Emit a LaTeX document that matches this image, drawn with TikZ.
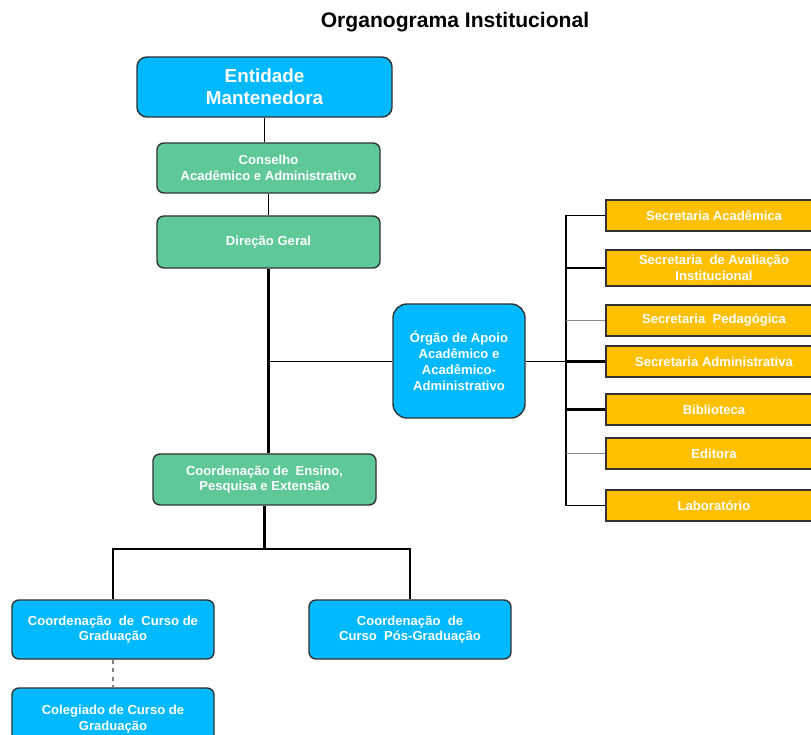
\documentclass[tikz,border=0pt]{standalone}
\usepackage{fontspec}
\setmainfont{Liberation Sans}
\usepackage{tikz}
\usetikzlibrary{positioning, calc}
\definecolor{boxBlue}{HTML}{00B9FF}
\definecolor{boxGreen}{HTML}{5EC899}
\definecolor{boxOrange}{HTML}{FFC000}
\colorlet{edge}{black!80}

\begin{document}
\begin{tikzpicture}[x=0.025cm, y=-0.025cm,
    unit/.style={draw=edge, line width=1pt, inner sep=0pt, align=center,
      text=white, font=\bfseries\fontsize{9.3}{11}\selectfont},
    blueunit/.style={unit, fill=boxBlue, rounded corners=5pt},
    greenunit/.style={unit, fill=boxGreen, rounded corners=5pt},
    secunit/.style={unit, fill=boxOrange, minimum width=5.4cm, minimum height=0.775cm},
    link/.style={black, line width=0.7pt},
    mainlink/.style={black, line width=1.6pt},
    sidelink/.style={black!45, line width=0.9pt}]
  \useasboundingbox (0,0) rectangle (811,735);
  \clip (0,0) rectangle (811,735);
  \node[font=\bfseries\fontsize{15}{18}\selectfont] (title) at (455, 22) {Organograma Institucional};
  \node[blueunit, rounded corners=7pt, minimum width=6.375cm, minimum height=1.5cm,
    font=\bfseries\fontsize{13.4}{15.6}\selectfont] (ent) at (264.5, 87) {Entidade\\Mantenedora};
  \node[greenunit, minimum width=5.575cm, minimum height=1.25cm] (cons) at (268.5, 168)
    {Conselho\\Acadêmico e Administrativo};
  \node[greenunit, minimum width=5.575cm, minimum height=1.3cm] (dir) at (268.5, 242) {Direção Geral};
  \node[blueunit, rounded corners=10pt, minimum width=3.3cm, minimum height=2.85cm,
    font=\bfseries\fontsize{9.3}{11.4}\selectfont] (org) at (459, 361)
    {Órgão de Apoio\\Acadêmico e\\Acadêmico-\\Administrativo};
  \node[secunit] (sa) at (714, 215.5) {Secretaria Acadêmica};
  \node[secunit, minimum height=0.9cm] (sav) at (714, 268) {Secretaria \ de Avaliação\\Institucional};
  \node[secunit] (sp) at (714, 320.5) {Secretaria \ Pedagógica};
  \node[secunit] (sadm) at (714, 361.5) {Secretaria Administrativa};
  \node[secunit] (bib) at (714, 409.5) {Biblioteca};
  \node[secunit] (edi) at (714, 453.5) {Editora};
  \node[secunit] (lab) at (714, 505.5) {Laboratório};
  \node[greenunit, minimum width=5.575cm, minimum height=1.275cm] (ens) at (264.5, 479.5)
    {Coordenação de \ Ensino,\\Pesquisa e Extensão};
  \node[blueunit, minimum width=5.05cm, minimum height=1.475cm] (grad) at (113, 629.5)
    {Coordenação \ de \ Curso de\\Graduação};
  \node[blueunit, minimum width=5.05cm, minimum height=1.475cm] (pos) at (410, 629.5)
    {Coordenação \ de\\Curso \ Pós-Graduação};
  \node[blueunit, minimum width=5.05cm, minimum height=1.55cm] (coleg) at (113, 719)
    {Colegiado de Curso de\\Graduação};
  \coordinate (bus) at (566, 0);
  \coordinate (split) at (265, 549);
  \draw[link] (ent) -- (ent.south |- cons.north);
  \draw[link] (cons) -- (cons.south |- dir.north);
  \draw[mainlink] (dir.south) -- (dir.south |- ens.north);
  \draw[link] (dir.south |- org.west) -- (org.west);
  \draw[link] (org.east) -- (bus |- org.east);
  \draw[mainlink] (bus |- sa.west) -- (bus |- lab.west);
  \draw[link] (bus |- sa.west) -- (sa.west);
  \draw[mainlink] (bus |- sav.west) -- (sav.west);
  \draw[sidelink] (bus |- sp.west) -- (sp.west);
  \draw[mainlink] (bus |- sadm.west) -- (sadm.west);
  \draw[mainlink] (bus |- bib.west) -- (bib.west);
  \draw[sidelink] (bus |- edi.west) -- (edi.west);
  \draw[link] (bus |- lab.west) -- (lab.west);
  \draw[mainlink] (ens.south) -- (ens.south |- split);
  \draw[mainlink] (grad.north) |- (split) -| (pos.north);
  \draw[black!50, line width=1pt, dashed] (grad.south) -- (coleg.north);
\end{tikzpicture}
\end{document}
